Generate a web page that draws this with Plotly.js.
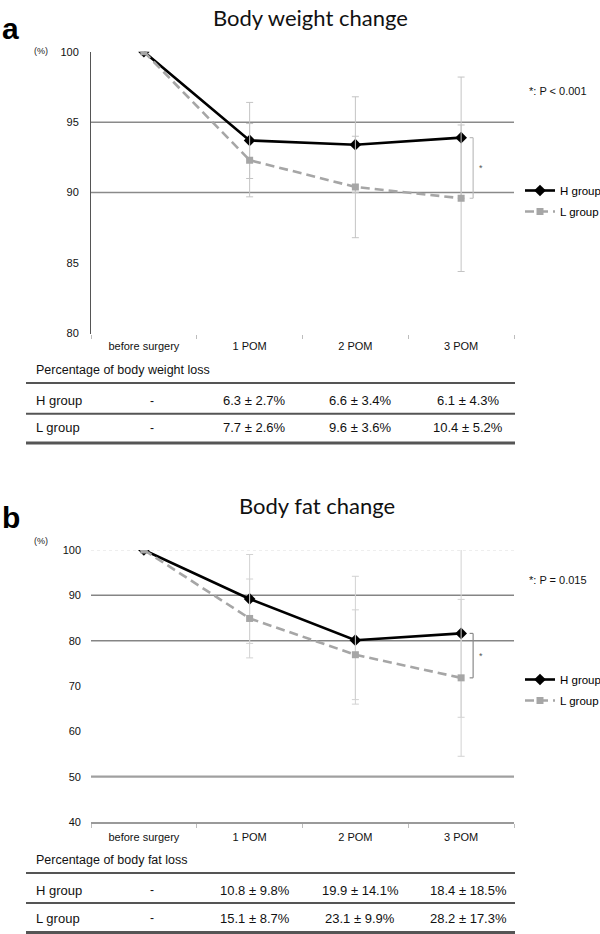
<!DOCTYPE html>
<html><head><meta charset="utf-8">
<script src="https://cdn.plot.ly/plotly-3.0.1.min.js"></script>
<style>html,body{margin:0;padding:0;background:#fff}#chart{width:600px;height:934px}</style>
</head><body><div id="chart"></div>
<script>
// ---------------- data ----------------
const categories = ['before surgery', '1 POM', '2 POM', '3 POM'];
const groups = ['H group', 'L group'];
// Body weight (panel a): % loss and SD at 1, 2, 3 POM
const weightLossH = [6.3, 6.6, 6.1];
const weightSdH   = [2.7, 3.4, 4.3];
const weightLossL = [7.7, 9.6, 10.4];
const weightSdL   = [2.6, 3.6, 5.2];
// Body fat (panel b)
const fatLossH = [10.8, 19.9, 18.4];
const fatSdH   = [9.8, 14.1, 18.5];
const fatLossL = [15.1, 23.1, 28.2];
const fatSdL   = [8.7, 9.9, 17.3];
const titles = ['Body weight change', 'Body fat change'];
const panelLetters = ['a', 'b'];
const tableTitles = ['Percentage of body weight loss', 'Percentage of body fat loss'];
const pNotes = ['*: P < 0.001', '*: P = 0.015'];
const yTicksA = [80, 85, 90, 95, 100];
const yTicksB = [40, 50, 60, 70, 80, 90, 100];
const gridA = [95, 90];
const gridB = [90, 80, 50];

// ---------------- helpers ----------------
const W = 600, H = 934;
const px = v => v / W;
const py = v => 1 - v / H;
const pct = loss => [100].concat(loss.map(v => +(100 - v).toFixed(1)));
const err = sd => [null].concat(sd);
const fmt = (l, s) => l.toFixed(1) + ' \u00b1 ' + s.toFixed(1) + '%';

const FONT = 'Liberation Sans, Arial, sans-serif';
const HCOL = '#000000', LCOL = '#a6a6a6';

const panels = [
  {lossH: weightLossH, sdH: weightSdH, lossL: weightLossL, sdL: weightSdL, xa: 'x', ya: 'y', legend: 'legend', errCol: '#c4c4c4'},
  {lossH: fatLossH, sdH: fatSdH, lossL: fatLossL, sdL: fatSdL, xa: 'x2', ya: 'y2', legend: 'legend2', errCol: '#d2d2d2'}
];

const data = [];
panels.forEach((p, i) => {
  data.push({
    x: categories, y: pct(p.lossH), xaxis: p.xa, yaxis: p.ya, legend: p.legend,
    name: groups[0], legendgroup: 'h' + i, mode: 'lines+markers', type: 'scatter',
    line: {color: HCOL, width: 2.6},
    marker: {symbol: 'diamond', size: 9, color: HCOL},
    error_y: {type: 'data', array: err(p.sdH), visible: true, color: p.errCol, thickness: 1, width: 3.5}
  });
  data.push({
    x: categories, y: pct(p.lossL), xaxis: p.xa, yaxis: p.ya, legend: p.legend,
    name: groups[1], legendgroup: 'l' + i, mode: 'lines+markers', type: 'scatter',
    line: {color: LCOL, width: 2.6, dash: '9px,5px'},
    marker: {symbol: 'square', size: 7, color: LCOL},
    error_y: {type: 'data', array: err(p.sdL), visible: true, color: p.errCol, thickness: 1, width: 3.5}
  });
});

const xDom = [px(91), px(514)];
const axFont = {family: FONT, size: 11, color: '#111'};
const xBase = {
  type: 'category', range: [-0.5, 3.5], domain: xDom, tickson: 'boundaries',
  ticks: 'outside', ticklen: 4, tickcolor: '#bdbdbd', tickwidth: 1,
  showgrid: false, zeroline: false, tickfont: axFont, ticklabelstandoff: 4, fixedrange: true
};
const layout = {
  width: W, height: H, paper_bgcolor: '#fff', plot_bgcolor: 'rgba(0,0,0,0)',
  margin: {l: 0, r: 0, t: 0, b: 0, pad: 0, autoexpand: false},
  font: {family: FONT, color: '#111'},
  showlegend: true,
  xaxis: Object.assign({}, xBase, {anchor: 'y', showline: false}),
  yaxis: {domain: [py(333.5), py(51.7)], range: [80, 100], tickvals: yTicksA, anchor: 'x',
          showgrid: false, zeroline: false, showline: true, linecolor: '#555', linewidth: 1,
          ticks: '', tickfont: axFont, ticklabelstandoff: 9},
  xaxis2: Object.assign({}, xBase, {anchor: 'y2', showline: true, linecolor: '#9a9a9a', linewidth: 1.5}),
  yaxis2: {domain: [py(822), py(550)], range: [40, 100], tickvals: yTicksB, anchor: 'x2',
           showgrid: false, zeroline: false, showline: false,
           ticks: '', tickfont: axFont, ticklabelstandoff: 9},
  legend: {x: px(520), xanchor: 'left', y: py(201), yanchor: 'middle', traceorder: 'grouped',
           tracegroupgap: 2, bgcolor: 'rgba(0,0,0,0)', font: {family: FONT, size: 11.5, color: '#000'}},
  legend2: {x: px(520), xanchor: 'left', y: py(690), yanchor: 'middle', traceorder: 'grouped',
            tracegroupgap: 2, bgcolor: 'rgba(0,0,0,0)', font: {family: FONT, size: 11.5, color: '#000'}},
  shapes: [], annotations: []
};

// gridlines
gridA.forEach(v => layout.shapes.push({type: 'line', xref: 'x domain', yref: 'y', x0: 0, x1: 1, y0: v, y1: v,
  line: {color: '#8a8a8a', width: 1.5}, layer: 'below'}));
gridB.forEach(v => layout.shapes.push({type: 'line', xref: 'x2 domain', yref: 'y2', x0: 0, x1: 1, y0: v, y1: v,
  line: {color: v === 50 ? '#a0a0a0' : '#858585', width: v === 50 ? 2.2 : 1.5}, layer: 'below'}));
layout.shapes.push({type: 'line', xref: 'x2 domain', yref: 'y2', x0: 0, x1: 1, y0: 100, y1: 100,
  line: {color: '#dedede', width: 1, dash: 'dot'}, layer: 'below'});

const tableRows = [
  {title: 370, top: 383, r1: 400.7, mid: 413.7, r2: 427.7, bot: 443},
  {title: 860, top: 873, r1: 890, mid: 903, r2: 918, bot: 932.5}
];
const bracketCol = ['#bdbdbd', '#8a8a8a'];

panels.forEach((p, i) => {
  const xa = p.xa, ya = p.ya;
  const hv = pct(p.lossH), lv = pct(p.lossL);
  const titleY = [17, 505][i], titleX = [310.5, 316.5][i];
  layout.annotations.push({text: titles[i], xref: 'paper', yref: 'paper', x: px(titleX), y: py(titleY),
    xanchor: 'center', yanchor: 'middle', showarrow: false, font: {family: 'Lato, Open Sans, sans-serif', size: 22, color: '#111'}});
  layout.annotations.push({text: '<b>' + panelLetters[i] + '</b>', xref: 'paper', yref: 'paper',
    x: px(0), y: py([28, 517][i]), xanchor: 'left', yanchor: 'middle', showarrow: false,
    font: {family: FONT, size: 30, color: '#000'}});
  layout.annotations.push({text: '(%)', xref: 'paper', yref: 'paper', x: px(41), y: py([51.5, 541][i]),
    xanchor: 'center', yanchor: 'middle', showarrow: false, font: {family: FONT, size: 9, color: '#222'}});
  layout.annotations.push({text: pNotes[i], xref: 'paper', yref: 'paper', x: px(527), y: py([91, 580][i]),
    xanchor: 'left', yanchor: 'middle', showarrow: false, font: {family: FONT, size: 11, color: '#111'}});

  // significance bracket at 3 POM
  const last = categories.length - 1;
  const bc = bracketCol[i];
  layout.shapes.push({type: 'line', xref: xa, yref: ya, xsizemode: 'pixel', xanchor: last, x0: 12, x1: 12,
    y0: hv[last], y1: lv[last], line: {color: bc, width: 1.2}});
  [hv[last], lv[last]].forEach(v => layout.shapes.push({type: 'line', xref: xa, yref: ya, xsizemode: 'pixel',
    xanchor: last, x0: 8.5, x1: 12, y0: v, y1: v, line: {color: bc, width: 1.2}}));
  layout.annotations.push({text: '*', xref: xa, yref: ya, x: last, xshift: 20, y: (hv[last] + lv[last]) / 2,
    showarrow: false, xanchor: 'center', yanchor: 'middle', font: {family: FONT, size: 9, color: '#555'}});

  // table
  const t = tableRows[i];
  layout.annotations.push({text: tableTitles[i], xref: 'paper', yref: 'paper', x: px(34), y: py(t.title),
    xanchor: 'left', yanchor: 'middle', showarrow: false, font: {family: FONT, size: 12.5, color: '#111'}});
  [[t.top, 2], [t.mid, 2], [t.bot, 3]].forEach(([yy, w]) => layout.shapes.push({type: 'line', xref: 'paper', yref: 'paper',
    x0: px(26), x1: px(515), y0: py(yy), y1: py(yy), line: {color: '#555', width: w}}));
  const rows = [[groups[0], p.lossH, p.sdH, t.r1], [groups[1], p.lossL, p.sdL, t.r2]];
  rows.forEach(([name, loss, sd, yy]) => {
    layout.annotations.push({text: name, xref: 'paper', yref: 'paper', x: px(34), y: py(yy),
      xanchor: 'left', yanchor: 'middle', showarrow: false, font: {family: FONT, size: 13, color: '#111'}});
    layout.annotations.push({text: '-', xref: xa, yref: 'paper', x: 0, xshift: 8, y: py(yy),
      xanchor: 'center', yanchor: 'middle', showarrow: false, font: {family: FONT, size: 12, color: '#111'}});
    loss.forEach((l, k) => layout.annotations.push({text: fmt(l, sd[k]), xref: xa, yref: 'paper', x: k + 1,
      xshift: k === 2 ? 7 : 5, y: py(yy), xanchor: 'center', yanchor: 'middle', showarrow: false,
      font: {family: FONT, size: 13, color: '#111'}}));
  });
});

Plotly.newPlot('chart', data, layout, {staticPlot: true, displayModeBar: false});
</script>
</body></html>
